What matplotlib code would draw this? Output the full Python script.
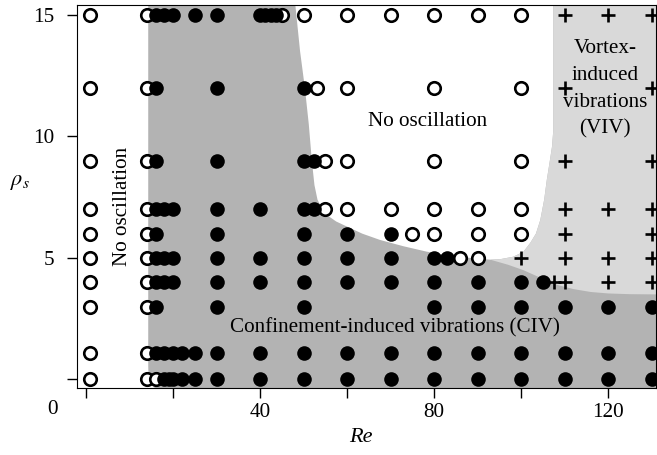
import numpy as np
import matplotlib.pyplot as plt
from matplotlib.path import Path
from matplotlib.patches import PathPatch, Polygon

plt.rcParams['font.family'] = ['Liberation Serif', 'DejaVu Serif']
plt.rcParams['mathtext.fontset'] = 'stix'

# %%
# Data (Re, rho_s)
rho_rows = [15, 12, 9, 7, 6, 5, 4, 3, 1.1, 0]

# no oscillation (open circles)
re_open = [
    [1, 14, 45, 50, 60, 70, 80, 90, 100],
    [1, 14, 53, 60, 80, 100],
    [1, 14, 55, 60, 80, 100],
    [1, 14, 55, 60, 70, 80, 90, 100],
    [1, 14, 75, 80, 90, 100],
    [1, 14, 86, 90],
    [1, 14],
    [1, 14],
    [1, 14],
    [1, 14, 16],
]
# CIV (filled circles)
re_civ = [
    [16, 18, 20, 25, 30, 40, 41.25, 42.5, 43.75],
    [16, 30, 50],
    [16, 30, 50, 52.5],
    [16, 18, 20, 30, 40, 50, 52.5],
    [16, 30, 50, 60, 70],
    [16, 18, 20, 30, 40, 50, 60, 70, 80, 83],
    [16, 18, 20, 30, 40, 50, 60, 70, 80, 90, 100, 105],
    [16, 30, 50, 80, 90, 100, 110, 120, 130],
    [16, 18, 20, 22, 25, 30, 40, 50, 60, 70, 80, 90, 100, 110, 120, 130],
    [18, 19, 20, 22, 25, 30, 40, 50, 60, 70, 80, 90, 100, 110, 120, 130],
]
# VIV (plus)
re_viv = [
    [110, 120, 130],
    [110, 130],
    [110, 130],
    [110, 120, 130],
    [110, 130],
    [100, 110, 120, 130],
    [107.5, 110, 120, 130],
    [],
    [],
    [],
]

# region boundaries
civ_left_re = 14.3
no_osc_left = [(48.0, 15.6), (49.2, 13.5), (50.3, 12.0), (51.2, 10.5), (51.9, 9.0),
               (52.5, 8.0), (53.2, 7.4), (54.3, 7.0), (55.5, 6.75), (57.5, 6.5),
               (60, 6.29), (63.5, 6.0), (67.6, 5.74), (73, 5.48), (78.3, 5.26),
               (84, 5.08), (89.0, 4.99), (92.9, 4.93)]
viv_left = [(92.9, 4.93), (95.2, 4.95), (98.2, 5.05), (100.5, 5.25), (102.1, 5.62),
            (103.4, 6.0), (104.4, 6.56), (105.3, 7.4), (105.9, 8.21), (106.6, 9.0),
            (107.1, 9.58), (107.4, 10.27), (107.4, 15.6)]
viv_bottom = [(92.9, 4.93), (97, 4.72), (100.5, 4.5), (103, 4.3), (105.5, 4.1),
              (108.5, 3.88), (112, 3.72), (116, 3.6), (120, 3.54), (125, 3.51),
              (132, 3.5)]


def flatten(rows):
    xs, ys = [], []
    for rho, res in zip(rho_rows, rows):
        xs += res
        ys += [rho] * len(res)
    return xs, ys


# %%
fig = plt.figure(figsize=(6.57, 4.55), dpi=100)
ax = fig.add_axes([0.1172, 0.1462, 0.8813, 0.8429])
xmin, xmax = -2.07, 131.0
ymin, ymax = -0.37, 15.41

# CIV region (dark grey) with rounded lower-left corner
verts = [(civ_left_re, 16), (civ_left_re, 0.55), (civ_left_re, ymin), (16.5, ymin),
         (135, ymin), (135, 16), (civ_left_re, 16)]
codes = [Path.MOVETO, Path.LINETO, Path.CURVE3, Path.CURVE3,
         Path.LINETO, Path.LINETO, Path.CLOSEPOLY]
ax.add_patch(PathPatch(Path(verts, codes), fc='#b3b3b3', ec='none', zorder=0))

# no oscillation region (white)
ax.add_patch(Polygon(no_osc_left + viv_left[1:], closed=True, fc='white', ec='none', zorder=1))

# VIV region (light grey)
viv_poly = viv_left[::-1] + viv_bottom + [(135, 3.5), (135, 16)]
ax.add_patch(Polygon(viv_poly, closed=True, fc='#d9d9d9', ec='none', zorder=1))

x, y = flatten(re_open)
ax.plot(x, y, 'o', ms=9, mfc='white', mec='black', mew=1.9, ls='none', zorder=3)
x, y = flatten(re_civ)
ax.plot(x, y, 'o', ms=10.5, color='black', mew=0, ls='none', zorder=4)
x, y = flatten(re_viv)
ax.plot(x, y, '+', ms=10, color='black', mew=1.9, ls='none', zorder=5)

# Annotations
fs = 15.2
ax.text(78.4, 10.6, "No oscillation", ha='center', va='center', fontsize=fs, zorder=6)
ax.text(8.3, 7.1, "No oscillation", rotation=90, ha='center', va='center', fontsize=fs, zorder=6)
ax.text(119.3, 11.95, "Vortex-\ninduced\nvibrations\n(VIV)", ha='center', va='center',
        fontsize=fs, linespacing=1.55, zorder=6)
ax.text(71, 2.12, "Confinement-induced vibrations (CIV)", ha='center', va='center',
        fontsize=fs, zorder=6)

ax.set_xlim(xmin, xmax)
ax.set_ylim(ymin, ymax)
ax.set_xticks([0, 20, 40, 60, 80, 100, 120])
ax.set_xticklabels(['', '', '40', '', '80', '', '120'])
ax.set_yticks([0, 5, 10, 15])
ax.set_yticklabels(['', '5', '10', '15'])
ax.tick_params(axis='both', direction='out', length=7.2, width=1, labelsize=fs)
ax.tick_params(axis='x', pad=3)
ax.tick_params(axis='y', pad=9)
ax.text(-7.8, -0.056, '0', transform=ax.get_xaxis_transform(), ha='center', va='center',
        fontsize=fs)

ax.set_xlabel('Re', fontstyle='italic', fontsize=16, va='center')
ax.xaxis.set_label_coords(0.49, -0.127)
ax.set_ylabel(r'$\rho_s$', rotation=0, fontsize=16, ha='center', va='center')
ax.yaxis.set_label_coords(-0.098, 0.538)

fig.savefig('out.png', dpi=100)
